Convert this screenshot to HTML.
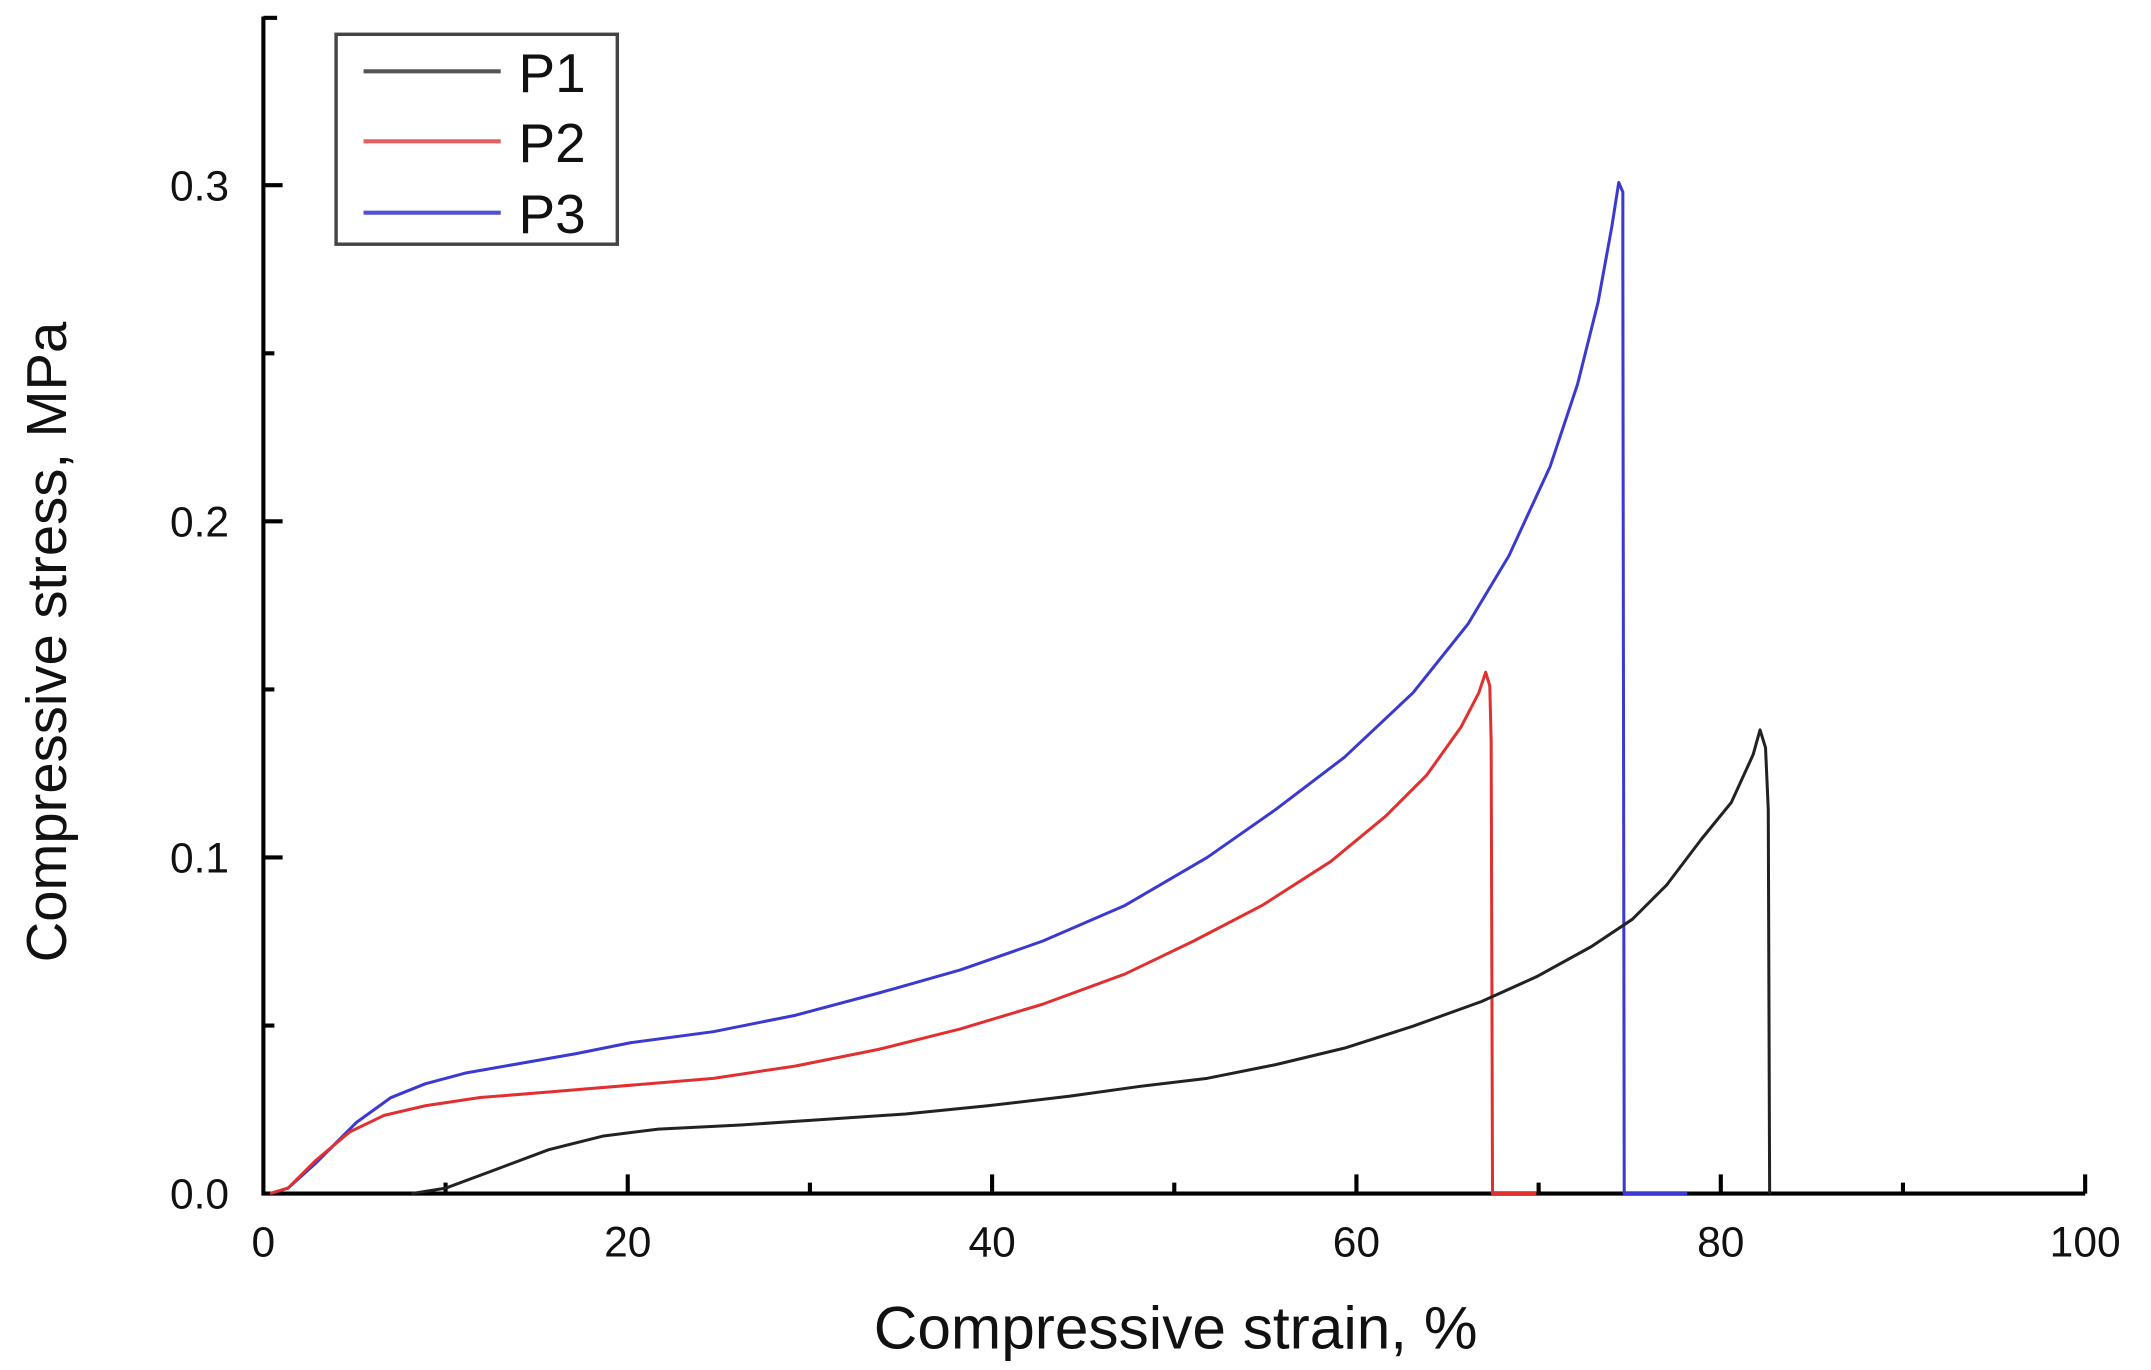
<!DOCTYPE html>
<html><head><meta charset="utf-8"><style>html,body{margin:0;padding:0;background:#fff}svg{display:block}</style></head>
<body>
<svg width="2151" height="1370" viewBox="0 0 1568 998.6" preserveAspectRatio="none" xmlns="http://www.w3.org/2000/svg" font-family="Liberation Sans, Arial, sans-serif">
<rect width="1568" height="998.6" fill="#fff"/>
<g stroke="#000" stroke-width="3" fill="none">
<path d="M192,12 L192,870 L1520,870"/>
<path d="M192,13 L202,13"/>
<path d="M192,625 L206,625 M192,380 L206,380 M192,135 L206,135 M192,747.5 L200,747.5 M192,502.5 L200,502.5 M192,257.5 L200,257.5"/>
<path d="M457.6,870 L457.6,856 M723.2,870 L723.2,856 M988.8,870 L988.8,856 M1254.4,870 L1254.4,856 M1520,870 L1520,856 M324.8,870 L324.8,862 M590.4,870 L590.4,862 M856,870 L856,862 M1121.6,870 L1121.6,862 M1387.2,870 L1387.2,862"/>
</g>
<g font-size="31" fill="#111" text-anchor="end">
<text x="167" y="881">0.0</text><text x="167" y="636">0.1</text><text x="167" y="391">0.2</text><text x="167" y="146">0.3</text>
</g>
<g font-size="31" fill="#111" text-anchor="middle">
<text x="192" y="916">0</text><text x="457.6" y="916">20</text><text x="723.2" y="916">40</text><text x="988.8" y="916">60</text><text x="1254.4" y="916">80</text><text x="1520" y="916">100</text>
</g>
<text x="857" y="983" font-size="44" fill="#111" text-anchor="middle">Compressive strain, %</text>
<text transform="translate(48,468) rotate(-90)" font-size="41" fill="#111" text-anchor="middle">Compressive stress, MPa</text>
<g fill="none" stroke-width="2.2" stroke-linejoin="round">
<polyline stroke="#3a3ad0" points="197,870 210,866 230,848 260,818 285,800 310,790 340,782 380,775 420,768 460,760 520,752 580,740 640,724 700,707 760,686 820,660 880,625 930,590 980,552 1030,505 1070,455 1100,405 1130,340 1150,280 1165,220 1175,165 1180,133 1183,140 1183,200 1184,870 1230,870"/>
<polyline stroke="#e03030" points="197,870 210,866 230,846 255,825 280,813 310,806 350,800 400,796 460,791 520,786 580,777 640,765 700,750 760,732 820,710 870,686 920,660 970,628 1010,595 1040,565 1065,530 1078,505 1083,490 1086,500 1087,540 1088,870 1120,870"/>
<polyline stroke="#222" points="300,870 325,866 360,853 400,838 440,828 480,823 540,820 600,816 660,812 720,806 780,799 830,792 880,786 930,776 980,764 1030,748 1080,730 1120,712 1160,690 1190,670 1215,645 1240,612 1262,585 1278,550 1283,532 1287,545 1289,590 1290,870"/>
</g>
<rect x="245" y="25" width="205" height="153" fill="#fff" stroke="#444" stroke-width="2.5"/>
<g stroke-width="3">
<line x1="265" y1="52" x2="365" y2="52" stroke="#555"/>
<line x1="265" y1="103" x2="365" y2="103" stroke="#e06060"/>
<line x1="265" y1="155" x2="365" y2="155" stroke="#5050d0"/>
</g>
<g font-size="40" fill="#111">
<text x="378" y="67">P1</text><text x="378" y="118">P2</text><text x="378" y="170">P3</text>
</g>
</svg>
</body></html>
